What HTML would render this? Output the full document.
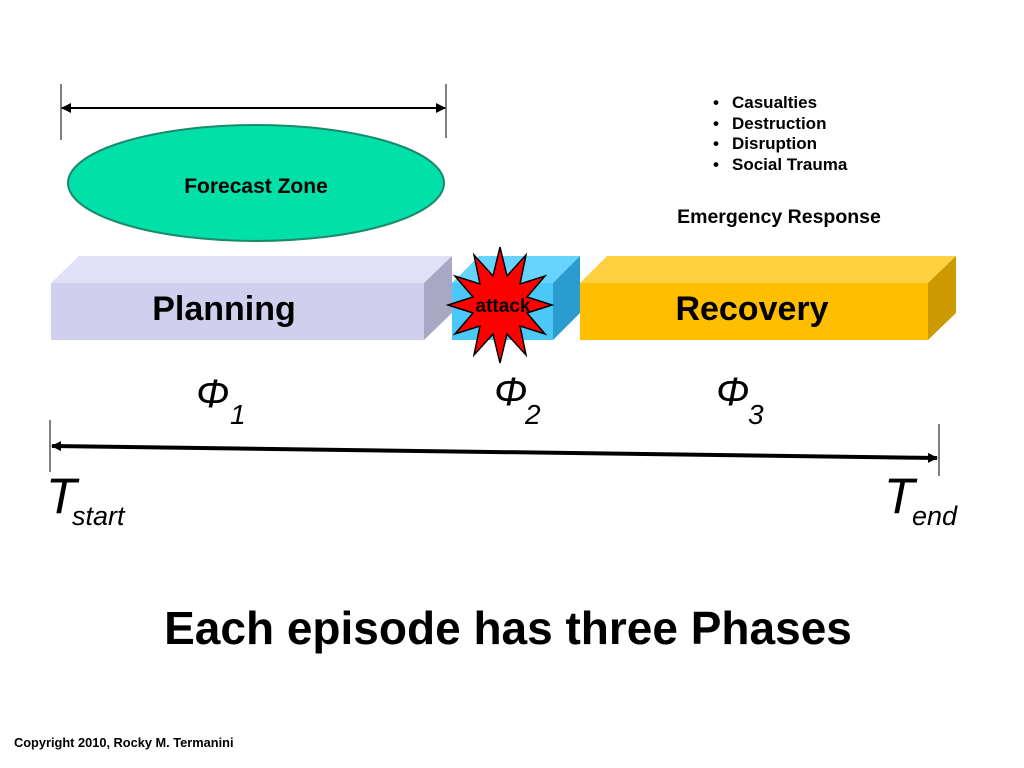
<!DOCTYPE html>
<html><head><meta charset="utf-8"><style>
html,body{margin:0;padding:0;background:#fff}
svg{display:block}
text{font-family:"Liberation Sans",Arial,sans-serif}
</style></head><body>
<svg width="1024" height="768" viewBox="0 0 1024 768" xmlns="http://www.w3.org/2000/svg">
<defs>
<marker id="a" markerWidth="10" markerHeight="10" refX="9" refY="5" orient="auto" markerUnits="userSpaceOnUse"><path d="M0,0 L10,5 L0,10 z" fill="#000"/></marker>
<marker id="b" markerWidth="10" markerHeight="10" refX="1" refY="5" orient="auto" markerUnits="userSpaceOnUse"><path d="M10,0 L0,5 L10,10 z" fill="#000"/></marker>
</defs>
<line x1="61" y1="84" x2="61" y2="140" stroke="#000" stroke-width="1"/>
<line x1="446" y1="84" x2="446" y2="138" stroke="#000" stroke-width="1"/>
<line x1="62" y1="108" x2="445" y2="108" stroke="#000" stroke-width="2" marker-start="url(#b)" marker-end="url(#a)"/>
<ellipse cx="256" cy="183" rx="188" ry="58" fill="#00e0a8" stroke="#1a8a6a" stroke-width="2"/>
<text x="256" y="193" font-size="21" font-weight="bold" text-anchor="middle">Forecast Zone</text>
<g font-size="17" font-weight="bold">
<text x="713" y="108">•</text><text x="732" y="108">Casualties</text>
<text x="713" y="129">•</text><text x="732" y="129">Destruction</text>
<text x="713" y="149">•</text><text x="732" y="149">Disruption</text>
<text x="713" y="170">•</text><text x="732" y="170">Social Trauma</text>
</g>
<text x="779" y="223" font-size="19.5" font-weight="bold" text-anchor="middle">Emergency Response</text>
<polygon points="51,283 79,256 452,256 424,283" fill="#e0e0f6"/>
<rect x="51" y="283" width="373" height="57" fill="#d0d0ee"/>
<polygon points="424,283 452,256 452,313 424,340" fill="#a8a8c4"/>
<text x="224" y="320" font-size="34" font-weight="bold" text-anchor="middle">Planning</text>
<polygon points="452,283 479,256 580,256 553,283" fill="#66d4ff"/>
<rect x="452" y="283" width="101" height="57" fill="#4cc8f8"/>
<polygon points="553,283 580,256 580,313 553,340" fill="#2a9cd0"/>
<polygon points="580,283 607,256 956,256 928,283" fill="#ffd040"/>
<rect x="580" y="283" width="348" height="57" fill="#ffbe00"/>
<polygon points="928,283 956,256 956,313 928,340" fill="#cc9a00"/>
<text x="752" y="320" font-size="34" font-weight="bold" text-anchor="middle">Recovery</text>
<polygon points="552,305 527,313 545,334 520,326 526,355 507,334 500,363 493,334 474,355 480,326 455,334 473,313 448,305 473,297 455,276 480,284 474,255 493,276 500,247 507,276 526,255 520,284 545,276 527,297" fill="#ff0000" stroke="#000" stroke-width="1.5"/>
<text x="503" y="312" font-size="19" font-weight="bold" text-anchor="middle">attack</text>
<g font-size="40" font-style="italic">
<text x="196" y="407">Φ</text><text x="494" y="405">Φ</text><text x="716" y="405">Φ</text>
</g>
<g font-size="28" font-style="italic">
<text x="230" y="424">1</text><text x="525" y="424">2</text><text x="748" y="424">3</text>
</g>
<line x1="50" y1="420" x2="50" y2="472" stroke="#000" stroke-width="1"/>
<line x1="939" y1="424" x2="939" y2="476" stroke="#000" stroke-width="1"/>
<line x1="52" y1="446" x2="937" y2="458" stroke="#000" stroke-width="4" marker-start="url(#b)" marker-end="url(#a)"/>
<text x="46" y="513" font-size="50" font-style="italic">T</text>
<text x="72" y="525" font-size="27" font-style="italic">start</text>
<text x="884" y="513" font-size="50" font-style="italic">T</text>
<text x="912" y="525" font-size="27" font-style="italic">end</text>
<text x="508" y="644" font-size="46" font-weight="bold" text-anchor="middle">Each episode has three Phases</text>
<text x="14" y="747" font-size="12.8" font-weight="bold">Copyright 2010, Rocky M. Termanini</text>
</svg>
</body></html>
